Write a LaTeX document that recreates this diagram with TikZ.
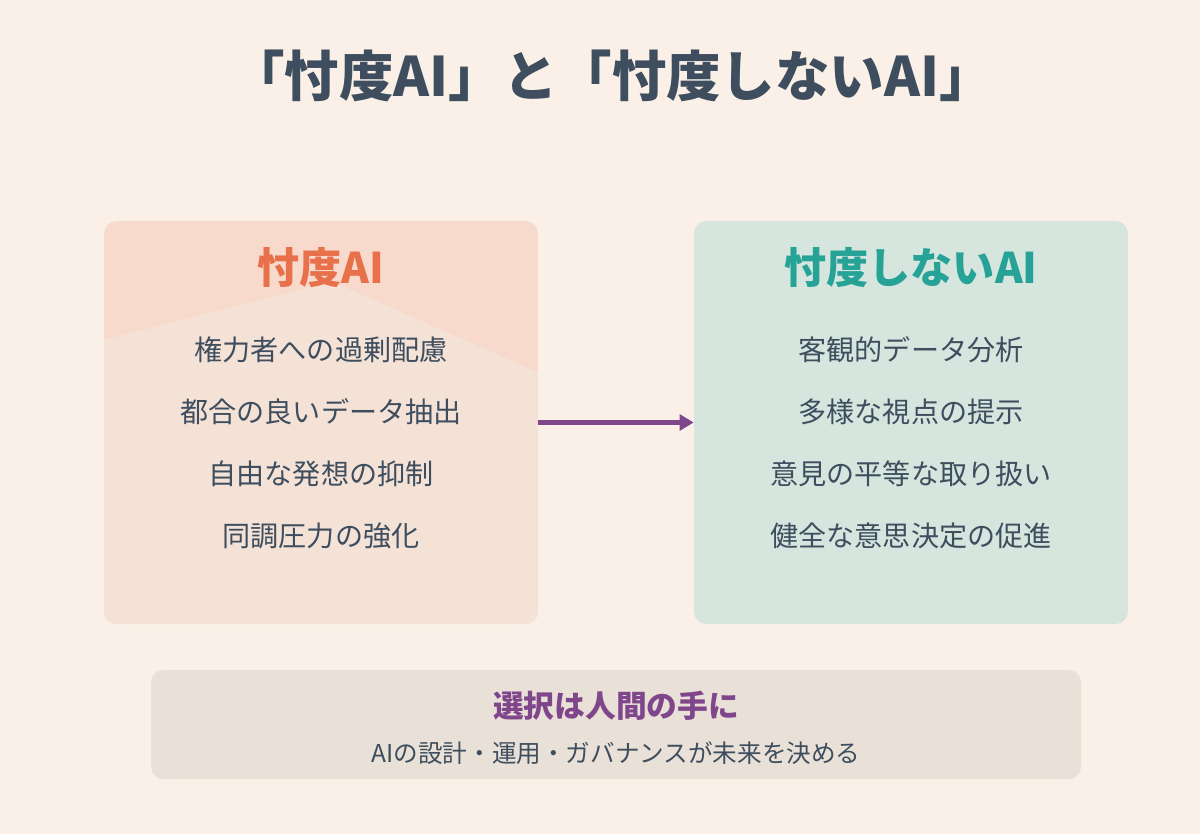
\documentclass[tikz,border=0pt]{standalone}
\usepackage{fontspec}
\setmainfont{Noto Sans CJK JP}
\usetikzlibrary{positioning,arrows.meta}

\definecolor{bg}{RGB}{250,240,231}
\definecolor{ink}{RGB}{62,78,94}
\definecolor{peach}{RGB}{247,218,204}
\definecolor{peachlow}{RGB}{244,226,215}
\definecolor{mint}{RGB}{214,230,222}
\definecolor{sand}{RGB}{233,225,215}
\definecolor{orange}{RGB}{232,112,74}
\definecolor{teal}{RGB}{38,163,150}
\definecolor{plum}{RGB}{128,70,140}

\tikzset{
  box/.style={rounded corners=7pt, minimum width=8.68cm, minimum height=8.06cm, inner sep=0pt},
  head/.style={font=\bfseries\fontsize{24}{29}\selectfont},
  item/.style={font=\fontsize{16}{19}\selectfont, text=ink},
}

\begin{document}
\begin{tikzpicture}[x=0.02cm, y=-0.02cm]
  % fondo
  \fill[bg] (0,0) rectangle (1200,834);

  % titulo
  \node[font=\bfseries\fontsize{31}{37}\selectfont, text=ink] (title) at (612,76) {「忖度AI」と「忖度しないAI」};

  % cajas
  \node[box, fill=peach] (sontaku) at (321,422.5) {};
  \node[box, fill=mint] (nosontaku) at (911,422.5) {};
  \begin{scope}
    \clip[rounded corners=7pt] (104,221) rectangle (538,624);
    \fill[peachlow, rounded corners=10pt] (60,351) -- (333,282) -- (600,400) -- (600,700) -- (60,700) -- cycle;
  \end{scope}

  % izquierda
  \node[head, text=orange] (h1) at (321,268) {忖度AI};
  \node[item] (a1) at (321,350) {権力者への過剰配慮};
  \node[item] (a2) at (321,412) {都合の良いデータ抽出};
  \node[item] (a3) at (321,474) {自由な発想の抑制};
  \node[item] (a4) at (321,536) {同調圧力の強化};

  % derecha
  \node[head, text=teal] (h2) at (911,268) {忖度しないAI};
  \node[item] (b1) at (911,350) {客観的データ分析};
  \node[item] (b2) at (911,412) {多様な視点の提示};
  \node[item] (b3) at (911,474) {意見の平等な取り扱い};
  \node[item] (b4) at (911,536) {健全な意思決定の促進};

  % flecha
  \draw[plum, line width=2.3pt, -{Triangle[length=8pt, width=9pt]}] (sontaku) -- (nosontaku);

  % abajo
  \fill[sand, rounded corners=7pt] (151,670) rectangle (1081,779);
  \node[font=\bfseries\fontsize{17.5}{21}\selectfont, text=plum] (choice) at (616,706) {選択は人間の手に};
  \node[font=\fontsize{14}{17}\selectfont, text=ink] (future) at (616,753) {AIの設計・運用・ガバナンスが未来を決める};
\end{tikzpicture}
\end{document}
